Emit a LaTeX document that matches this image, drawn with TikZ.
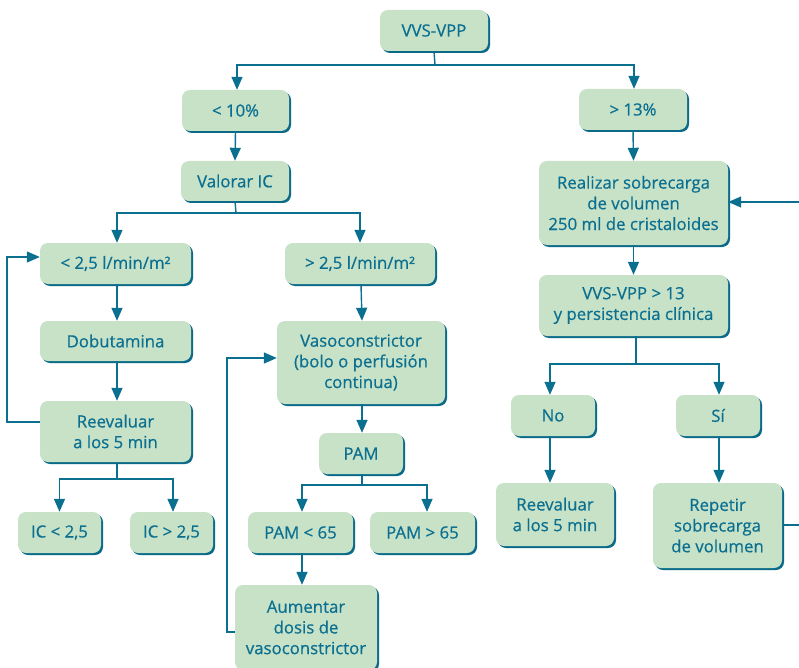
\documentclass[tikz,border=0pt]{standalone}
\usepackage{fontspec}
\setmainfont{Open Sans}
\newfontfamily\boxfont{Open Sans}[FakeBold=0.6]
\usetikzlibrary{arrows.meta,shadows,calc}
\definecolor{boxfill}{HTML}{C8E2C8}
\definecolor{tealc}{HTML}{0B7090}
\definecolor{edgec}{HTML}{0A6A88}
\tikzset{
  box/.style={rounded corners=8pt, fill=boxfill, draw=none, text=tealc, align=center,
    inner sep=0pt, font=\boxfont\fontsize{16.8}{20.7}\selectfont,
    copy shadow={shadow xshift=2pt, shadow yshift=-2pt, fill=edgec, draw=none}},
  ln/.style={draw=tealc, line width=1.4pt},
  arr/.style={ln, -{Triangle[width=11pt,length=13pt]}}
}
\newcommand{\bx}[6]{\node[box, minimum width=#4pt, minimum height=#5pt] (#1) at (#2,#3) {#6};}
\begin{document}
\begin{tikzpicture}[x=1pt,y=-1pt]
\useasboundingbox (0,0) rectangle (799,668);
\clip (0,0) rectangle (799,668);
\fill[white] (0,0) rectangle (799,668);
% nodes
\bx{top}{434}{30.5}{108}{41}{VVS-VPP}
\bx{lt10}{235.5}{110.5}{107}{41}{< 10\%}
\bx{gt13}{633}{109.5}{108}{41}{> 13\%}
\bx{valorar}{235}{181}{108}{40}{Valorar IC}
\bx{lt25}{115.5}{263.5}{151}{41}{< 2,5 l/min/m²}
\bx{gt25}{360}{263.5}{150}{41}{> 2,5 l/min/m²}
\bx{dobu}{115.5}{341}{151}{40}{Dobutamina}
\bx{reev1}{115.5}{431.5}{151}{61}{Reevaluar\\a los 5 min}
\bx{vaso}{361}{362.5}{168}{83}{Vasoconstrictor\\(bolo o perfusión\\continua)}
\bx{pam}{361}{453.5}{84}{41}{PAM}
\bx{pamlt}{300.5}{532.5}{105}{41}{PAM < 65}
\bx{pamgt}{422.5}{532.5}{105}{41}{PAM > 65}
\bx{aument}{306}{627.5}{142}{85}{Aumentar\\dosis de\\vasoconstrictor}
\bx{iclt}{59.5}{532.5}{83}{41}{IC < 2,5}
\bx{icgt}{171.5}{532.5}{83}{41}{IC > 2,5}
\bx{realizar}{633.5}{203}{189}{84}{Realizar sobrecarga\\de volumen\\250 ml de cristaloides}
\bx{vvs13}{633.5}{305.5}{189}{61}{VVS-VPP > 13\\y persistencia clínica}
\bx{no}{553}{415.5}{84}{41}{No}
\bx{si}{718}{415.5}{84}{41}{Sí}
\bx{reev2}{555}{514.5}{118}{63}{Reevaluar\\a los 5 min}
\bx{repetir}{717.5}{525.5}{129}{85}{Repetir\\sobrecarga\\de volumen}
% junctions
\coordinate (j1) at (435,65);
\coordinate (j2) at (236,213);
\coordinate (j3) at (117,479);
\coordinate (j4) at (362,485);
\coordinate (j5) at (636,364);
% connectors
\draw[ln] (top.south) -- (j1);
\draw[arr] (j1) -| ([xshift=1.5pt]lt10.north);
\draw[arr] (j1) -| ([xshift=1pt]gt13.north);
\draw[arr] (lt10.south) -- (valorar.north);
\draw[ln] (valorar.south) -- (j2);
\draw[arr] (j2) -| ([xshift=1.5pt]lt25.north);
\draw[arr] (j2) -| (gt25.north);
\draw[arr] ([xshift=1.5pt]lt25.south) -- ([xshift=1.5pt]dobu.north);
\draw[arr] ([xshift=1.5pt]dobu.south) -- ([xshift=1.5pt]reev1.north);
\draw[ln] ([xshift=1.5pt]reev1.south) -- (j3);
\draw[arr] (j3) -| (iclt.north);
\draw[arr] (j3) -| ([xshift=1.5pt]icgt.north);
\draw[arr] ([yshift=9.5pt]reev1.west) -- ++(-33,0) |- ([yshift=6.5pt]lt25.west);
\draw[arr] ([xshift=1pt]gt25.south) -- ([xshift=1pt]vaso.north);
\draw[arr] ([xshift=1pt]vaso.south) -- ([xshift=1pt]pam.north);
\draw[ln] ([xshift=1pt]pam.south) -- (j4);
\draw[arr] (j4) -| ([xshift=1.5pt]pamlt.north);
\draw[arr] (j4) -| ([xshift=4.5pt]pamgt.north);
\draw[arr] ([xshift=1.5pt]pamlt.south) -- ([xshift=1.5pt]pamlt.south |- aument.north);
\draw[arr] ([yshift=-4.5pt]aument.west) -- ++(-8,0) |- ([yshift=4.5pt]vaso.west);
\draw[arr] (gt13.south) -- (realizar.north);
\draw[arr] (realizar.south) -- (vvs13.north);
\draw[ln] ([xshift=2.5pt]vvs13.south) -- (j5);
\draw[arr] (j5) -| ([xshift=-3pt]no.north);
\draw[arr] (j5) -| ([xshift=1pt]si.north);
\draw[arr] ([xshift=-3pt]no.south) -- ([xshift=-3pt]no.south |- reev2.north);
\draw[arr] ([xshift=1pt]si.south) -- ([xshift=1pt]si.south |- repetir.north);
\draw[arr] ([yshift=0.5pt]repetir.east) -- ++(40,0) |- ([yshift=1pt]realizar.east);
\end{tikzpicture}
\end{document}
